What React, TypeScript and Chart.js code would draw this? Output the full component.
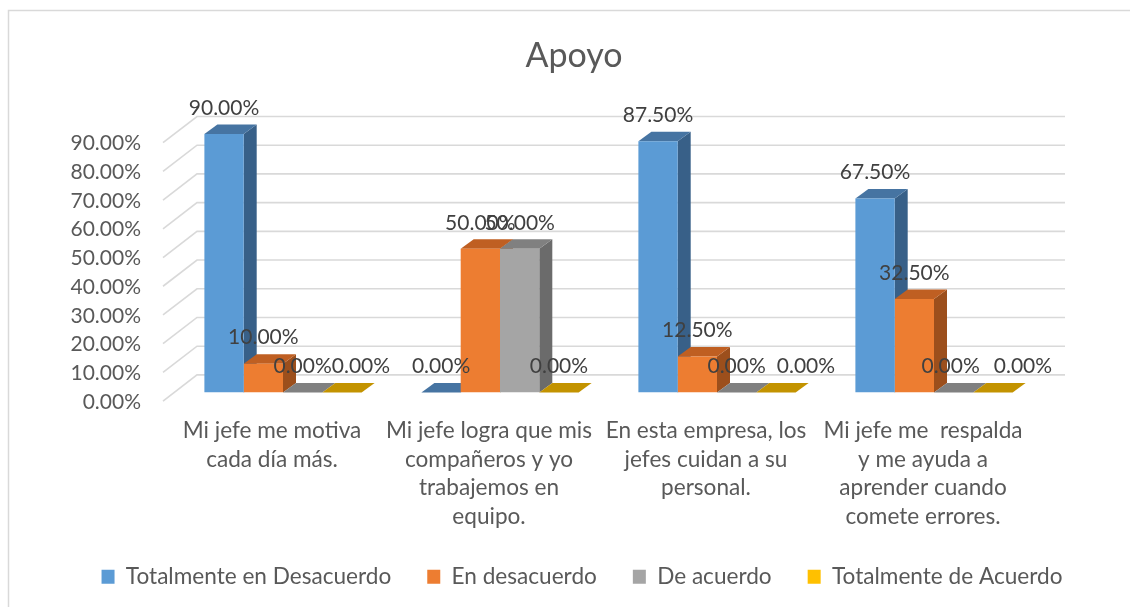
import React, { useEffect, useRef } from 'react';
import { Chart, registerables } from 'chart.js';

Chart.register(...registerables);

// ---------- data ----------
const categories: string[][] = [
  ['Mi jefe me motiva', 'cada día más.'],
  ['Mi jefe logra que mis', 'compañeros y yo', 'trabajemos en', 'equipo.'],
  ['En esta empresa, los', 'jefes cuidan a su', 'personal.'],
  ['Mi jefe me  respalda', 'y me ayuda a', 'aprender cuando', 'comete errores.'],
];
const seriesNames = ['Totalmente en Desacuerdo', 'En desacuerdo', 'De acuerdo', 'Totalmente de Acuerdo'];
const totalmenteEnDesacuerdo = [90, 0, 87.5, 67.5];
const enDesacuerdo = [10, 50, 12.5, 32.5];
const deAcuerdo = [0, 50, 0, 0];
const totalmenteDeAcuerdo = [0, 0, 0, 0];
const yTickValues = [0, 10, 20, 30, 40, 50, 60, 70, 80, 90];
const chartTitle = 'Apoyo';

// ---------- styles ----------
const FONT = 'Lato, "Noto Sans", sans-serif';
const TEXT = '#595959';
const LABEL_TEXT = '#404040';
const frontColors = ['#5B9BD5', '#ED7D31', '#A5A5A5', '#FFC000'];
const topColors = ['#4674A2', '#BF5F22', '#808080', '#C39300'];
const sideColors = ['#386088', '#9C4F1C', '#6B6B6B', '#9E7700'];
const DX = 13;
const DY = -9.5;
const GRID_FRONT = { dx: -11.5, dy: 8.7 };
const GRID_BACK = { dx: 22.5, dy: -17.5 };
// horizontal nudges of data labels (per series, per category) to avoid overlap
const labelNudgeX = [
  [0, 0, 0, 0],
  [0, 0, 0, 0],
  [0, 0, 0, -3],
  [19, 0, 30, 30],
];

const fmt = (v: number) => v.toFixed(2) + '%';

const poly = (ctx: CanvasRenderingContext2D, pts: number[][]) => {
  ctx.beginPath();
  ctx.moveTo(pts[0][0], pts[0][1]);
  for (let i = 1; i < pts.length; i++) ctx.lineTo(pts[i][0], pts[i][1]);
  ctx.closePath();
  ctx.fill();
};

const framePlugin = {
  id: 'frame',
  beforeDraw(chart: any) {
    const ctx = chart.ctx as CanvasRenderingContext2D;
    ctx.save();
    ctx.fillStyle = '#FFFFFF';
    ctx.fillRect(0, 0, chart.width, chart.height);
    ctx.strokeStyle = '#D9D9D9';
    ctx.lineWidth = 1.5;
    ctx.strokeRect(8.5, 10.5, 3000, 3000);
    ctx.restore();
  },
  afterDraw(chart: any) {
    const ctx = chart.ctx as CanvasRenderingContext2D;
    ctx.save();
    ctx.fillStyle = TEXT;
    ctx.font = `34px ${FONT}`;
    ctx.textAlign = 'center';
    ctx.textBaseline = 'middle';
    ctx.fillText(chartTitle, 574, 56);
    ctx.restore();
  },
};

const threeDPlugin = {
  id: 'threeD',
  beforeDatasetsDraw(chart: any) {
    const ctx = chart.ctx as CanvasRenderingContext2D;
    const area = chart.chartArea;
    const ys = chart.scales.y;
    ctx.save();
    ctx.strokeStyle = '#D9D9D9';
    ctx.lineWidth = 1.6;
    for (const v of yTickValues) {
      const py = ys.getPixelForValue(v);
      ctx.beginPath();
      ctx.moveTo(area.left + GRID_FRONT.dx, py + GRID_FRONT.dy);
      ctx.lineTo(area.left + GRID_BACK.dx, py + GRID_BACK.dy);
      ctx.lineTo(area.right + GRID_BACK.dx, py + GRID_BACK.dy);
      ctx.stroke();
    }
    const n = chart.data.labels.length;
    for (let i = 0; i < n; i++) {
      chart.data.datasets.forEach((_ds: any, d: number) => {
        const el = chart.getDatasetMeta(d).data[i];
        if (!el) return;
        const { x, y, base, width } = el.getProps(['x', 'y', 'base', 'width'], true);
        const l = x - width / 2;
        const r = x + width / 2;
        ctx.fillStyle = sideColors[d];
        poly(ctx, [[r, y], [r + DX, y + DY], [r + DX, base + DY], [r, base]]);
        ctx.fillStyle = topColors[d];
        poly(ctx, [[l, y], [l + DX, y + DY], [r + DX, y + DY], [r, y]]);
      });
    }
    ctx.restore();
  },
  afterDatasetsDraw(chart: any) {
    const ctx = chart.ctx as CanvasRenderingContext2D;
    ctx.save();
    ctx.fillStyle = LABEL_TEXT;
    ctx.font = `21px ${FONT}`;
    ctx.textAlign = 'center';
    ctx.textBaseline = 'middle';
    chart.data.datasets.forEach((ds: any, d: number) => {
      chart.getDatasetMeta(d).data.forEach((el: any, i: number) => {
        const { x, y } = el.getProps(['x', 'y'], true);
        const nudge = (labelNudgeX[d] && labelNudgeX[d][i]) || 0;
        ctx.fillText(fmt(ds.data[i]), x + nudge, y - 26);
      });
    });
    ctx.restore();
  },
};

export default function App() {
  const ref = useRef<HTMLCanvasElement | null>(null);
  useEffect(() => {
    document.body.style.margin = '0';
    const canvas = ref.current;
    if (!canvas) return;
    const seriesValues = [totalmenteEnDesacuerdo, enDesacuerdo, deAcuerdo, totalmenteDeAcuerdo];
    const chart = new Chart(canvas, {
      type: 'bar',
      data: {
        labels: categories,
        datasets: seriesNames.map((name, i) => ({
          label: name,
          data: seriesValues[i],
          backgroundColor: frontColors[i],
          borderWidth: 0,
          categoryPercentage: 0.7245,
          barPercentage: 1.0,
          yAxisID: 'y',
        })),
      },
      options: {
        animation: false,
        responsive: false,
        devicePixelRatio: 1,
        layout: { padding: { left: 34, right: 0, top: 134, bottom: 9 } },
        plugins: {
          title: { display: false },
          tooltip: { enabled: false },
          legend: {
            position: 'bottom',
            labels: {
              boxWidth: 13,
              boxHeight: 14,
              padding: 36,
              color: TEXT,
              font: { family: FONT, size: 22.6 },
            },
          },
        },
        scales: {
          x: {
            afterFit: (s: any) => { s.height = 137; },
            grid: { display: false, drawTicks: false },
            border: { display: false },
            ticks: {
              padding: 24.4,
              labelOffset: -11,
              maxRotation: 0,
              minRotation: 0,
              autoSkip: false,
              color: TEXT,
              font: { family: FONT, size: 22.6, lineHeight: 28.5 / 22.6 },
            },
          },
          y: {
            position: 'left',
            min: 0,
            max: 90,
            afterBuildTicks: (s: any) => { s.ticks = yTickValues.map((v) => ({ value: v })); },
            afterFit: (s: any) => { s.width = 140.5; },
            grid: { display: false, drawTicks: false },
            border: { display: false },
            ticks: {
              autoSkip: false,
              padding: 33.5,
              labelOffset: 9.5,
              color: TEXT,
              font: { family: FONT, size: 21 },
              callback: (v: any) => fmt(Number(v)),
            },
          },
          yRightSpace: {
            type: 'linear',
            position: 'right',
            afterFit: (s: any) => { s.width = 87.5; },
            grid: { display: false, drawTicks: false },
            border: { display: false },
            ticks: { display: false },
          },
        },
      },
      plugins: [framePlugin, threeDPlugin],
    } as any);
    return () => chart.destroy();
  }, []);
  return (
    <canvas
      ref={ref}
      width={1130}
      height={607}
      style={{ display: 'block', width: 1130, height: 607 }}
    />
  );
}
